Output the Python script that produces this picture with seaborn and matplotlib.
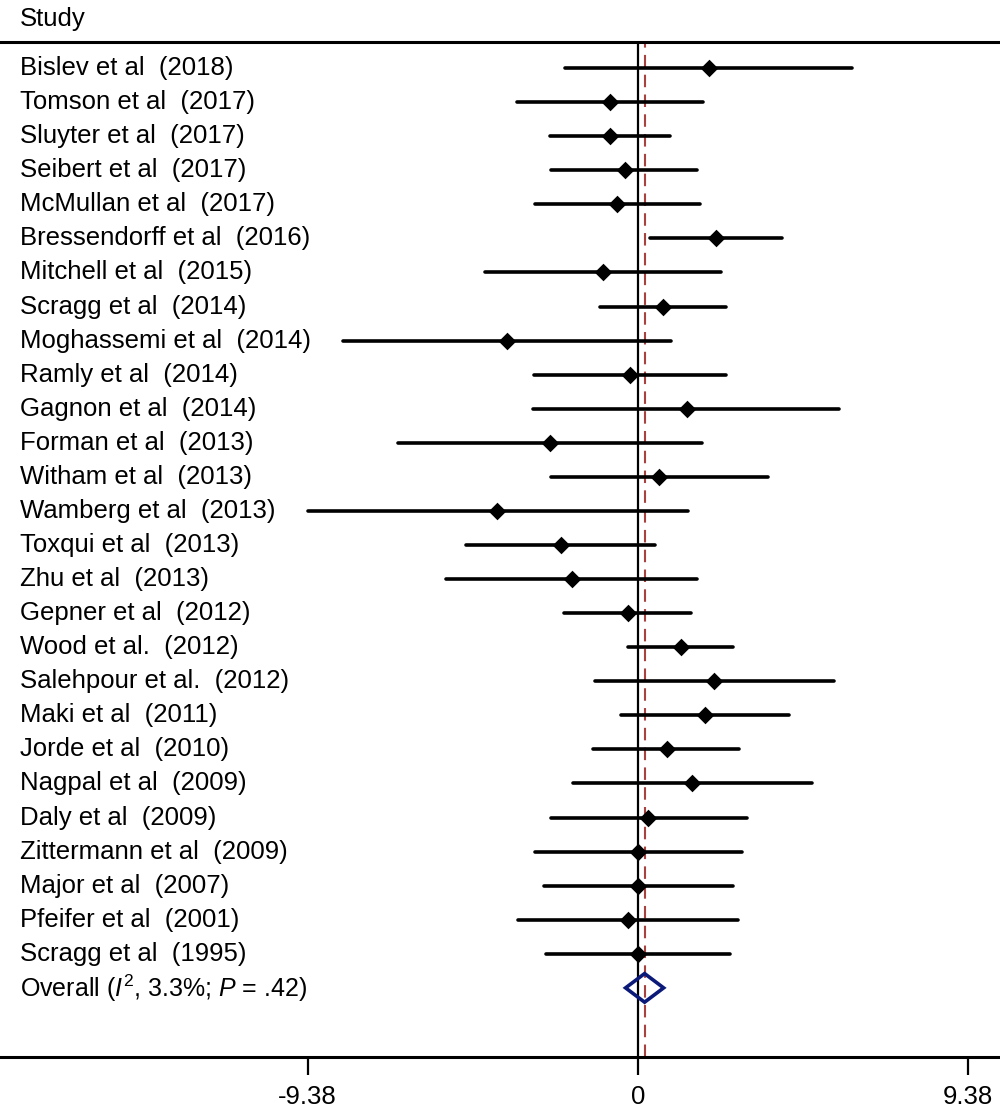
import numpy as np
import pandas as pd
import matplotlib
matplotlib.use("Agg")
import matplotlib.pyplot as plt
import seaborn as sns

studies = [
    "Bislev et al  (2018)", "Tomson et al  (2017)", "Sluyter et al  (2017)",
    "Seibert et al  (2017)", "McMullan et al  (2017)", "Bressendorff et al  (2016)",
    "Mitchell et al  (2015)", "Scragg et al  (2014)", "Moghassemi et al  (2014)",
    "Ramly et al  (2014)", "Gagnon et al  (2014)", "Forman et al  (2013)",
    "Witham et al  (2013)", "Wamberg et al  (2013)", "Toxqui et al  (2013)",
    "Zhu et al  (2013)", "Gepner et al  (2012)", "Wood et al.  (2012)",
    "Salehpour et al.  (2012)", "Maki et al  (2011)", "Jorde et al  (2010)",
    "Nagpal et al  (2009)", "Daly et al  (2009)", "Zittermann et al  (2009)",
    "Major et al  (2007)", "Pfeifer et al  (2001)", "Scragg et al  (1995)",
]
estimate = [2.01, -0.79, -0.79, -0.38, -0.60, 2.21, -0.99, 0.71, -3.71, -0.22,
            1.38, -2.49, 0.61, -3.99, -2.18, -1.88, -0.29, 1.21, 2.17, 1.90,
            0.82, 1.54, 0.30, 0.00, 0.00, -0.29, 0.00]
ci_low = [-2.08, -3.43, -2.49, -2.47, -2.92, 0.34, -4.34, -1.07, -8.37, -2.95,
          -2.98, -6.82, -2.47, -9.38, -4.87, -5.46, -2.10, -0.27, -1.22, -0.47,
          -1.27, -1.83, -2.48, -2.91, -2.68, -3.40, -2.60]
ci_high = [6.09, 1.85, 0.91, 1.68, 1.75, 4.09, 2.36, 2.49, 0.95, 2.51,
           5.72, 1.83, 3.68, 1.41, 0.49, 1.67, 1.52, 2.70, 5.58, 4.28,
           2.88, 4.93, 3.10, 2.95, 2.71, 2.84, 2.61]
overall_label = r"Overall ($\mathit{I}^{2}$, 3.3%; $\mathit{P}$ = .42)"
overall_est = 0.19
overall_low = -0.35
overall_high = 0.73
x_ticks = [-9.38, 0, 9.38]
x_tick_labels = ["-9.38", "0", "9.38"]

sns.set_theme(style="white")
plt.rcParams["font.family"] = ["Liberation Sans", "DejaVu Sans"]
plt.rcParams["mathtext.fontset"] = "custom"
plt.rcParams["mathtext.rm"] = "Liberation Sans"
plt.rcParams["mathtext.it"] = "Liberation Sans:italic"
plt.rcParams["text.color"] = "black"
plt.rcParams["xtick.color"] = "black"

df = pd.DataFrame({"study": studies, "est": estimate, "lo": ci_low, "hi": ci_high})
df["row"] = np.arange(len(df))
overall_row = len(df)

fig = plt.figure(figsize=(10, 11.08), dpi=100)
ax = fig.add_axes([0, 0.046, 1, 0.916])

# reference lines
ax.axvline(0, color="black", lw=1.6, zorder=1)
ax.axvline(overall_est, color="#a8423e", lw=1.5, dashes=(6, 3.5), zorder=1)

# confidence intervals and point estimates
ax.hlines(df["row"], df["lo"], df["hi"], color="black", lw=2.6,
          capstyle="round", zorder=2)
sns.scatterplot(data=df, x="est", y="row", marker="D", color="black",
                s=80, edgecolor="black", linewidth=0, ax=ax, zorder=3)

# pooled estimate diamond
ax.fill([overall_low, overall_est, overall_high, overall_est],
        [overall_row, overall_row - 0.42, overall_row, overall_row + 0.42],
        facecolor="none", edgecolor="#0b1a78", lw=2.6, zorder=4)

# study labels
fs = 18.5
for r, name in zip(df["row"], df["study"]):
    ax.text(0.02, r, name, transform=ax.get_yaxis_transform(),
            ha="left", va="center", fontsize=fs, color="black")
ax.text(0.02, overall_row, overall_label, transform=ax.get_yaxis_transform(),
        ha="left", va="center", fontsize=18, color="black")
ax.text(0.02, -1.45, "Study", transform=ax.get_yaxis_transform(),
        ha="left", va="center", fontsize=fs, color="black", clip_on=False)

ax.set_xlim(-18.11, 10.28)
ax.set_ylim(29.03, -0.763)
ax.set_xticks(x_ticks)
ax.set_xticklabels(x_tick_labels, fontsize=fs)
ax.set_yticks([])
ax.set_xlabel("")
ax.set_ylabel("")
ax.tick_params(axis="x", direction="out", length=13, width=1.6,
               color="black", pad=7, bottom=True)
for side in ["left", "right"]:
    ax.spines[side].set_visible(False)
for side in ["top", "bottom"]:
    ax.spines[side].set_visible(True)
    ax.spines[side].set_color("black")
    ax.spines[side].set_linewidth(2.2)

fig.savefig("out.png", dpi=100, facecolor="white")
